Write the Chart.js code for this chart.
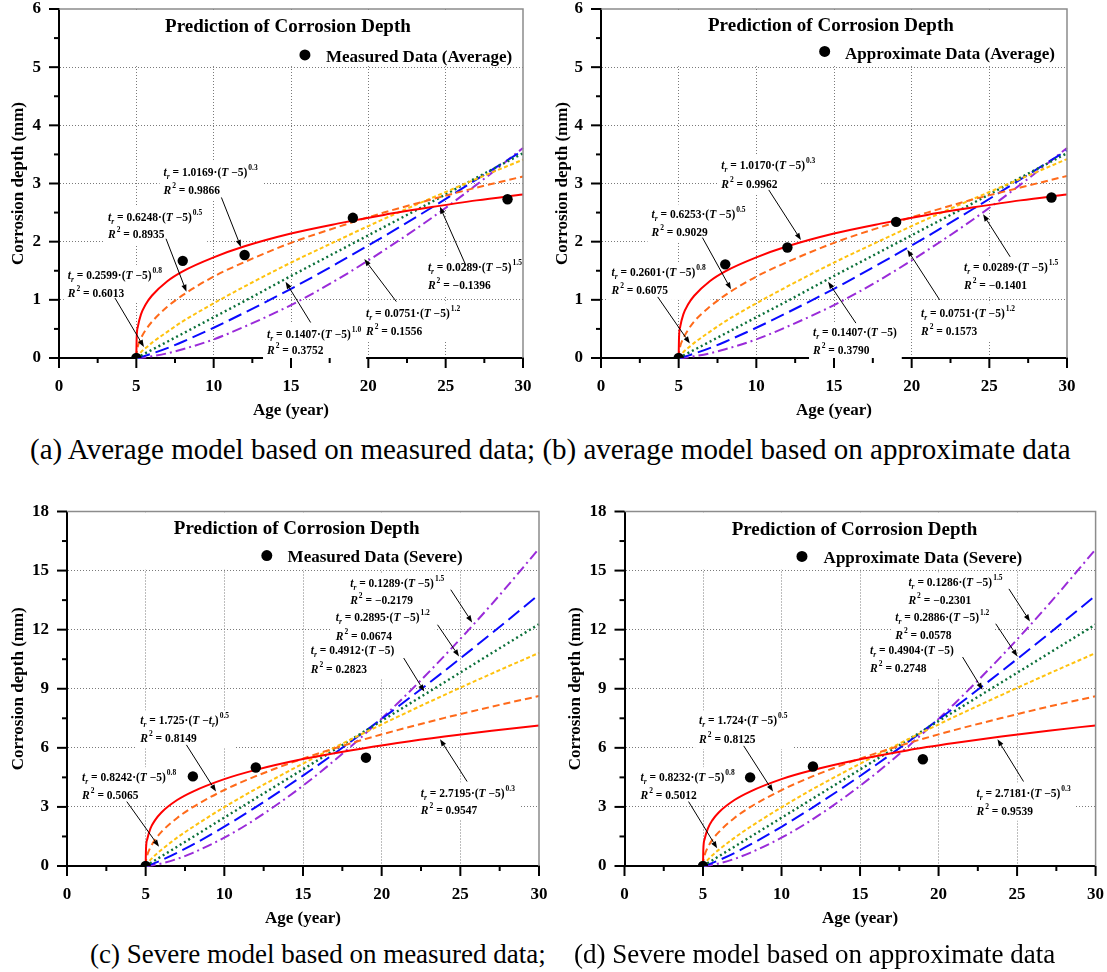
<!DOCTYPE html>
<html><head><meta charset="utf-8">
<script src="https://cdn.jsdelivr.net/npm/chart.js@4.4.1/dist/chart.umd.min.js"></script>
<style>
html,body{margin:0;padding:0;background:#fff;}
body{width:1107px;height:972px;position:relative;overflow:hidden;font-family:'Liberation Serif','Times New Roman',serif;color:#000;}
.p{position:absolute;}
.cap{position:absolute;white-space:nowrap;}
</style></head><body>
<div class="p" style="left:0px;top:0px"><canvas id="ca" width="545" height="425"></canvas></div>
<div class="p" style="left:540px;top:0px"><canvas id="cb" width="567" height="425"></canvas></div>
<div class="p" style="left:0px;top:480px"><canvas id="cc" width="555" height="450"></canvas></div>
<div class="p" style="left:545px;top:480px"><canvas id="cd" width="562" height="450"></canvas></div>
<div class="cap" style="left:30px;top:435px;font-size:29px;line-height:29px">(a) Average model based on measured data; (b) average model based on approximate data</div>
<div class="cap" style="left:90px;top:941px;font-size:27px;line-height:27px">(c) Severe model based on measured data;</div>
<div class="cap" style="left:574px;top:941px;font-size:27px;line-height:27px">(d) Severe model based on approximate data</div>
<script>
// ---------- data ----------
const ages = [5, 5.02, 5.1, 5.3, 5.6, 6, 7, 8, 10, 12, 15, 18, 21, 24, 27, 30];

// (a) average, measured
const redA    = [0, 0.33, 0.54, 0.75, 0.92, 1.07, 1.32, 1.49, 1.73, 1.92, 2.14, 2.31, 2.46, 2.59, 2.71, 2.81];
const orangeA = [0, 0.09, 0.20, 0.34, 0.48, 0.62, 0.88, 1.08, 1.40, 1.65, 1.98, 2.25, 2.50, 2.72, 2.93, 3.12];
const yellowA = [0, 0.01, 0.04, 0.10, 0.17, 0.26, 0.45, 0.63, 0.94, 1.23, 1.64, 2.02, 2.39, 2.74, 3.08, 3.41];
const greenA  = [0, 0.003, 0.014, 0.042, 0.084, 0.14, 0.28, 0.42, 0.70, 0.98, 1.41, 1.83, 2.25, 2.67, 3.10, 3.52];
const blueA   = [0, 0.001, 0.005, 0.018, 0.041, 0.075, 0.17, 0.28, 0.52, 0.78, 1.19, 1.63, 2.09, 2.57, 3.07, 3.57];
const purpleA = [0, 0, 0.001, 0.005, 0.013, 0.029, 0.08, 0.15, 0.32, 0.54, 0.91, 1.35, 1.85, 2.39, 2.98, 3.61];
const pointAgesA = [5, 8, 12, 19, 29];
const pointsA    = [0, 1.67, 1.77, 2.41, 2.73];

// (b) average, approximate
const redB    = [0, 0.33, 0.54, 0.75, 0.92, 1.07, 1.32, 1.49, 1.73, 1.92, 2.14, 2.31, 2.46, 2.59, 2.71, 2.81];
const orangeB = [0, 0.09, 0.20, 0.34, 0.48, 0.63, 0.88, 1.08, 1.40, 1.65, 1.98, 2.25, 2.50, 2.73, 2.93, 3.13];
const yellowB = [0, 0.01, 0.04, 0.10, 0.17, 0.26, 0.45, 0.63, 0.94, 1.23, 1.64, 2.02, 2.39, 2.74, 3.08, 3.42];
const greenB  = [0, 0.003, 0.014, 0.042, 0.084, 0.14, 0.28, 0.42, 0.70, 0.98, 1.41, 1.83, 2.25, 2.67, 3.10, 3.52];
const blueB   = [0, 0.001, 0.005, 0.018, 0.041, 0.075, 0.17, 0.28, 0.52, 0.78, 1.19, 1.63, 2.09, 2.57, 3.07, 3.57];
const purpleB = [0, 0, 0.001, 0.005, 0.013, 0.029, 0.08, 0.15, 0.32, 0.54, 0.91, 1.35, 1.85, 2.39, 2.98, 3.61];
const pointAgesB = [5, 8, 12, 19, 29];
const pointsB    = [0, 1.61, 1.90, 2.34, 2.76];

// (c) severe, measured
const redC    = [0, 0.84, 1.36, 1.90, 2.33, 2.72, 3.35, 3.78, 4.41, 4.88, 5.43, 5.87, 6.25, 6.58, 6.87, 7.14];
const orangeC = [0, 0.24, 0.55, 0.94, 1.34, 1.73, 2.44, 2.99, 3.86, 4.56, 5.45, 6.22, 6.90, 7.52, 8.09, 8.63];
const yellowC = [0, 0.04, 0.13, 0.31, 0.55, 0.82, 1.44, 1.98, 2.99, 3.91, 5.20, 6.41, 7.57, 8.69, 9.77, 10.82];
const greenC  = [0, 0.01, 0.05, 0.15, 0.29, 0.49, 0.98, 1.47, 2.46, 3.44, 4.91, 6.39, 7.86, 9.33, 10.81, 12.28];
const blueC   = [0, 0.003, 0.018, 0.068, 0.157, 0.29, 0.67, 1.08, 2.00, 2.99, 4.59, 6.29, 8.07, 9.91, 11.82, 13.78];
const purpleC = [0, 0, 0.004, 0.021, 0.06, 0.13, 0.36, 0.67, 1.44, 2.39, 4.08, 6.04, 8.25, 10.68, 13.30, 16.11];
const pointAgesC = [5, 8, 12, 19];
const pointsC    = [0, 4.55, 5.00, 5.50];

// (d) severe, approximate
const redD    = [0, 0.84, 1.36, 1.89, 2.33, 2.72, 3.35, 3.78, 4.41, 4.87, 5.42, 5.87, 6.24, 6.57, 6.87, 7.14];
const orangeD = [0, 0.24, 0.55, 0.94, 1.34, 1.72, 2.44, 2.99, 3.85, 4.56, 5.45, 6.22, 6.90, 7.51, 8.09, 8.62];
const yellowD = [0, 0.04, 0.13, 0.31, 0.55, 0.82, 1.43, 1.98, 2.98, 3.91, 5.19, 6.41, 7.57, 8.68, 9.76, 10.81];
const greenD  = [0, 0.01, 0.05, 0.15, 0.29, 0.49, 0.98, 1.47, 2.45, 3.43, 4.90, 6.38, 7.85, 9.32, 10.79, 12.26];
const blueD   = [0, 0.003, 0.018, 0.068, 0.156, 0.29, 0.66, 1.08, 1.99, 2.98, 4.57, 6.27, 8.04, 9.88, 11.78, 13.73];
const purpleD = [0, 0, 0.004, 0.021, 0.06, 0.13, 0.36, 0.67, 1.44, 2.38, 4.07, 6.03, 8.23, 10.65, 13.27, 16.08];
const pointAgesD = [5, 8, 12, 19];
const pointsD    = [0, 4.50, 5.05, 5.42];

// annotation texts (coefficient, exponent, R²)
const notesA = [
  {coef:'1.0169', exp:'0.3', r2:'0.9866'},
  {coef:'0.6248', exp:'0.5', r2:'0.8935'},
  {coef:'0.2599', exp:'0.8', r2:'0.6013'},
  {coef:'0.1407', exp:'1.0', r2:'0.3752'},
  {coef:'0.0751', exp:'1.2', r2:'0.1556'},
  {coef:'0.0289', exp:'1.5', r2:'\u22120.1396'}
];
const notesB = [
  {coef:'1.0170', exp:'0.3', r2:'0.9962'},
  {coef:'0.6253', exp:'0.5', r2:'0.9029'},
  {coef:'0.2601', exp:'0.8', r2:'0.6075'},
  {coef:'0.1407', exp:'', r2:'0.3790'},
  {coef:'0.0751', exp:'1.2', r2:'0.1573'},
  {coef:'0.0289', exp:'1.5', r2:'\u22120.1401'}
];
const notesC = [
  {coef:'0.1289', exp:'1.5', r2:'\u22120.2179'},
  {coef:'0.2895', exp:'1.2', r2:'0.0674'},
  {coef:'0.4912', exp:'', r2:'0.2823'},
  {coef:'1.725', exp:'0.5', r2:'0.8149', inner:'tr'},
  {coef:'0.8242', exp:'0.8', r2:'0.5065'},
  {coef:'2.7195', exp:'0.3', r2:'0.9547'}
];
const notesD = [
  {coef:'0.1286', exp:'1.5', r2:'\u22120.2301'},
  {coef:'0.2886', exp:'1.2', r2:'0.0578'},
  {coef:'0.4904', exp:'', r2:'0.2748'},
  {coef:'1.724', exp:'0.5', r2:'0.8125'},
  {coef:'0.8232', exp:'0.8', r2:'0.5012'},
  {coef:'2.7181', exp:'0.3', r2:'0.9539'}
];

// ---------- placement of annotations (in data units) ----------
const placeA = [
  {x:6.76, y1:3.20, y2:2.88, ax:10.5, ay:2.76, tx:11.76, ty:1.91},
  {x:3.17, y1:2.43, y2:2.13, ax:6.92, ay:2.05, tx:8.24, ty:1.14},
  {x:0.57, y1:1.43, y2:1.12, ax:3.62, ay:1.03, tx:5.49, ty:0.19},
  {x:13.45, y1:0.42, y2:0.13, ax:16.27, ay:0.61, tx:14.65, ty:1.31},
  {x:19.85, y1:0.77, y2:0.47, ax:21.81, ay:0.97, tx:19.74, ty:1.70},
  {x:23.85, y1:1.56, y2:1.25, ax:26.31, ay:1.59, tx:24.63, ty:2.60}
];
const placeB = [
  {x:7.74, y1:3.31, y2:2.99, ax:10.8, ay:2.89, tx:12.87, ty:2.03},
  {x:3.25, y1:2.47, y2:2.16, ax:6.53, ay:2.07, tx:8.37, ty:1.18},
  {x:0.68, y1:1.47, y2:1.17, ax:3.65, ay:1.05, tx:5.72, ty:0.25},
  {x:13.65, y1:0.44, y2:0.14, ax:16.41, ay:0.60, tx:14.62, ty:1.31},
  {x:20.6, y1:0.77, y2:0.46, ax:21.8, ay:1.0, tx:19.72, ty:1.86},
  {x:23.37, y1:1.57, y2:1.25, ax:26.34, ay:1.74, tx:24.6, ty:2.47}
];
const placeC = [
  {x:18.0, y1:14.37, y2:13.49, ax:24.39, ay:14.03, tx:25.75, ty:12.37},
  {x:17.08, y1:12.64, y2:11.69, ax:23.55, ay:12.25, tx:24.92, ty:10.64},
  {x:15.49, y1:10.95, y2:10.0, ax:21.4, ay:10.56, tx:22.71, ty:8.86},
  {x:4.66, y1:7.39, y2:6.49, ax:7.59, ay:6.15, tx:9.47, ty:3.78},
  {x:0.96, y1:4.51, y2:3.61, ax:3.8, ay:3.27, tx:5.85, ty:0.98},
  {x:22.49, y1:3.73, y2:2.85, ax:25.43, ay:4.29, tx:23.71, ty:6.44}
];
const placeD = [
  {x:18.08, y1:14.4, y2:13.52, ax:24.48, ay:14.07, tx:25.82, ty:12.42},
  {x:17.24, y1:12.64, y2:11.74, ax:23.64, ay:12.3, tx:25.02, ty:10.64},
  {x:15.64, y1:10.98, y2:10.05, ax:21.53, ay:10.61, tx:22.8, ty:8.95},
  {x:4.75, y1:7.39, y2:6.44, ax:7.59, ay:6.1, tx:9.46, ty:3.78},
  {x:1.02, y1:4.51, y2:3.61, ax:4.08, ay:3.27, tx:5.9, ty:0.9},
  {x:22.42, y1:3.73, y2:2.81, ax:25.41, ay:4.29, tx:23.75, ty:6.44}
];

// ---------- styles ----------
const FONT = "'Liberation Serif','Times New Roman',serif";
Chart.defaults.font.family = FONT;
const NOTE_PX = 11.5, SMALL_PX = 7.5;
const STYLES = [
  {color:'#FF0000', dash:[], w:2},
  {color:'#FF6A1A', dash:[7,4], w:2},
  {color:'#FFC20E', dash:[4,2.5], w:2},
  {color:'#0B703A', dash:[2,3], w:2.4},
  {color:'#0A0AFF', dash:[14,6], w:2},
  {color:'#9A2BD9', dash:[10,4,2,4], w:2}
];

function segsLine1(n){
  const s = [{t:'t',i:true},{t:'r',i:true,sub:true},{t:' = '+n.coef+'\u00B7('},{t:'T',i:true},{t:' \u2212'}];
  if (n.inner === 'tr') { s.push({t:'t',i:true}); s.push({t:'r',i:true,sub:true}); }
  else s.push({t:'5'});
  s.push({t:')'});
  if (n.exp) s.push({t:n.exp,sup:true});
  return s;
}
function segsLine2(n){ return [{t:'R',i:true},{t:'2',sup:true},{t:' = '+n.r2}]; }
function segFont(s){ return (s.i?'italic ':'')+'bold '+((s.sub||s.sup)?SMALL_PX:NOTE_PX)+'px '+FONT; }
function richWidth(ctx, segs){ let w=0; segs.forEach(s=>{ctx.font=segFont(s); w+=ctx.measureText(s.t).width+(s.sup?1:0);}); return w; }
function drawRich(ctx, segs, x, yc){
  let cx = x; const base = yc + 4;
  segs.forEach(s=>{
    ctx.font = segFont(s);
    const dy = s.sub ? 3 : (s.sup ? -6 : 0);
    ctx.fillText(s.t, cx + (s.sup?1:0), base + dy);
    cx += ctx.measureText(s.t).width + (s.sup?1:0);
  });
}
function arrow(ctx, x1, y1, x2, y2){
  ctx.strokeStyle = '#000'; ctx.fillStyle = '#000'; ctx.lineWidth = 1;
  const a = Math.atan2(y2-y1, x2-x1), L = 7, W = 2.6;
  const bx = x2 - L*Math.cos(a), by = y2 - L*Math.sin(a);
  ctx.beginPath(); ctx.moveTo(x1, y1); ctx.lineTo(bx, by); ctx.stroke();
  ctx.beginPath(); ctx.moveTo(x2, y2);
  ctx.lineTo(bx + W*Math.sin(a), by - W*Math.cos(a));
  ctx.lineTo(bx - W*Math.sin(a), by + W*Math.cos(a));
  ctx.closePath(); ctx.fill();
}

function makePanel(id, P){
  const datasets = [{
    data: P.pointAges.map((x,i)=>({x:x, y:P.points[i]})),
    showLine:false, pointRadius:5.2, pointHoverRadius:5.2,
    pointBackgroundColor:'#000', pointBorderColor:'#000', pointBorderWidth:0
  }];
  P.curves.forEach((c,k)=>{
    const st = STYLES[k];
    datasets.push({
      data: ages.map((x,i)=>({x:x, y:c[i]})),
      showLine:true, pointRadius:0, borderColor:st.color, borderWidth:st.w,
      borderDash:st.dash, cubicInterpolationMode:'monotone', fill:false, clip:false
    });
  });
  const tickFont = {family:FONT, size:17, weight:'bold', lineHeight:1};
  const titleFont = {family:FONT, size:17, weight:'bold', lineHeight:1.2};
  const deco = {
    id:'deco',
    beforeDatasetsDraw(chart){
      const {ctx, chartArea:ca, scales:{x, y}} = chart;
      ctx.save();
      ctx.fillStyle = '#fff';
      const yb = y.getPixelForValue(P.bandFrom);
      ctx.fillRect(ca.left+2, ca.top+1, ca.right-ca.left-3, yb-ca.top-2);
      P.notes.forEach((n,i)=>{
        const pl = P.place[i];
        const w = Math.max(richWidth(ctx, segsLine1(n)), richWidth(ctx, segsLine2(n)));
        const px = x.getPixelForValue(pl.x), p1 = y.getPixelForValue(pl.y1), p2 = y.getPixelForValue(pl.y2);
        ctx.fillRect(px-4, p1-10, w+9, p2-p1+20);
      });
      ctx.restore();
    },
    afterDatasetsDraw(chart){
      const {ctx, chartArea:ca, scales:{x, y}} = chart;
      ctx.save();
      ctx.strokeStyle = '#8c8c8c'; ctx.lineWidth = 1.5;
      ctx.beginPath(); ctx.moveTo(ca.left, ca.top); ctx.lineTo(ca.right, ca.top); ctx.lineTo(ca.right, ca.bottom); ctx.stroke();
      ctx.strokeStyle = '#000'; ctx.lineWidth = 2;
      for (let v = 0; v <= 30.001; v += 2.5){
        const px = x.getPixelForValue(v), len = (Math.abs(v/5 - Math.round(v/5)) < 1e-6) ? 10 : 5;
        ctx.beginPath(); ctx.moveTo(px, ca.bottom); ctx.lineTo(px, ca.bottom+len); ctx.stroke();
      }
      for (let v = 0; v <= P.yMax + 1e-6; v += P.yStep/2){
        const py = y.getPixelForValue(v), len = (Math.abs(v/P.yStep - Math.round(v/P.yStep)) < 1e-6) ? 10 : 5;
        ctx.beginPath(); ctx.moveTo(ca.left, py); ctx.lineTo(ca.left-len, py); ctx.stroke();
      }
      ctx.fillStyle = '#000';
      ctx.font = 'bold 19px '+FONT; ctx.textAlign = 'center'; ctx.textBaseline = 'middle';
      ctx.fillText('Prediction of Corrosion Depth', x.getPixelForValue(P.titleX), y.getPixelForValue(P.titleY));
      ctx.beginPath(); ctx.arc(x.getPixelForValue(P.legDotX), y.getPixelForValue(P.legDotY), 5.5, 0, Math.PI*2); ctx.fill();
      ctx.font = 'bold 17px '+FONT; ctx.textAlign = 'left';
      ctx.fillText(P.legendText, x.getPixelForValue(P.legTextX), y.getPixelForValue(P.legTextY));
      ctx.textBaseline = 'alphabetic';
      P.notes.forEach((n,i)=>{
        const pl = P.place[i];
        const px = x.getPixelForValue(pl.x);
        drawRich(ctx, segsLine1(n), px, y.getPixelForValue(pl.y1));
        drawRich(ctx, segsLine2(n), px, y.getPixelForValue(pl.y2));
        arrow(ctx, x.getPixelForValue(pl.ax), y.getPixelForValue(pl.ay), x.getPixelForValue(pl.tx), y.getPixelForValue(pl.ty));
      });
      ctx.restore();
    }
  };
  return new Chart(document.getElementById(id), {
    type:'scatter',
    data:{datasets:datasets},
    options:{
      responsive:false, animation:false,
      layout:{padding:P.pad, autoPadding:false},
      plugins:{legend:{display:false}, tooltip:{enabled:false}, title:{display:false}},
      scales:{
        x:{
          type:'linear', min:0, max:30,
          ticks:{stepSize:5, color:'#000', font:tickFont, padding:0, maxRotation:0, autoSkip:false},
          grid:{drawTicks:true, tickLength:20, tickColor:'rgba(0,0,0,0)', lineWidth:1,
                color:(c)=> (c.tick && (c.tick.value<=0 || c.tick.value>=30)) ? 'rgba(0,0,0,0)' : '#7a7a7a'},
          border:{display:true, color:'#000', width:2, dash:[1,2]},
          title:{display:true, text:'Age (year)', color:'#000', font:titleFont, padding:{top:0, bottom:0}},
          afterFit(s){ s.height = P.xH; }
        },
        y:{
          type:'linear', min:0, max:P.yMax,
          ticks:{stepSize:P.yStep, color:'#000', font:tickFont, padding:0},
          grid:{drawTicks:true, tickLength:18, tickColor:'rgba(0,0,0,0)', lineWidth:1,
                color:(c)=> (c.tick && (c.tick.value<=0 || c.tick.value>=P.yMax)) ? 'rgba(0,0,0,0)' : '#7a7a7a'},
          border:{display:true, color:'#000', width:2, dash:[1,2]},
          title:{display:true, text:'Corrosion depth (mm)', color:'#000', font:titleFont, padding:{top:4, bottom:0}},
          afterFit(s){ s.width = P.yW; }
        }
      }
    },
    plugins:[deco]
  });
}

makePanel('ca', {
  curves:[redA, orangeA, yellowA, greenA, blueA, purpleA], pointAges:pointAgesA, points:pointsA,
  notes:notesA, place:placeA, legendText:'Measured Data (Average)',
  yMax:6, yStep:1, bandFrom:5, titleX:14.8, titleY:5.69, legDotX:15.9, legDotY:5.21, legTextX:17.26, legTextY:5.16,
  pad:{left:4, top:9, right:22, bottom:4}, yW:55, xH:63
});
makePanel('cb', {
  curves:[redB, orangeB, yellowB, greenB, blueB, purpleB], pointAges:pointAgesB, points:pointsB,
  notes:notesB, place:placeB, legendText:'Approximate Data (Average)',
  yMax:6, yStep:1, bandFrom:5, titleX:14.8, titleY:5.70, legDotX:14.4, legDotY:5.27, legTextX:15.71, legTextY:5.22,
  pad:{left:8, top:9, right:40, bottom:4}, yW:53, xH:63
});
makePanel('cc', {
  curves:[redC, orangeC, yellowC, greenC, blueC, purpleC], pointAges:pointAgesC, points:pointsC,
  notes:notesC, place:placeC, legendText:'Measured Data (Severe)',
  yMax:18, yStep:3, bandFrom:15, titleX:14.6, titleY:17.1, legDotX:12.7, legDotY:15.76, legTextX:14.02, legTextY:15.67,
  pad:{left:4, top:31.5, right:16, bottom:1}, yW:63, xH:63
});
makePanel('cd', {
  curves:[redD, orangeD, yellowD, greenD, blueD, purpleD], pointAges:pointAgesD, points:pointsD,
  notes:notesD, place:placeD, legendText:'Approximate Data (Severe)',
  yMax:18, yStep:3, bandFrom:15, titleX:14.65, titleY:17.08, legDotX:11.3, legDotY:15.72, legTextX:12.68, legTextY:15.62,
  pad:{left:16.5, top:31.5, right:11.4, bottom:1}, yW:63, xH:63
});
</script>
</body></html>
